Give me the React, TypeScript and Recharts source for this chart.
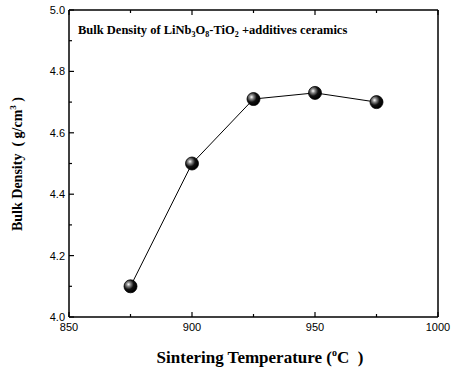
import { LineChart, Line, XAxis, YAxis } from "recharts";

const temperatures = [875, 900, 925, 950, 975];
const densities = [4.1, 4.5, 4.71, 4.73, 4.7];

const xMajorTicks = [850, 900, 950, 1000];
const xMinorTicks = [875, 925, 975];
const yMajorTicks = [4.0, 4.2, 4.4, 4.6, 4.8, 5.0];
const yMinorTicks = [4.1, 4.3, 4.5, 4.7, 4.9];

const data = temperatures.map((t, i) => ({ temp: t, density: densities[i] }));

const labelFont = "Liberation Sans, Arial, sans-serif";
const serif = "Liberation Serif, Times New Roman, serif";

function isMajor(list: number[], v: number) {
  return list.some((m) => Math.abs(m - v) < 1e-6);
}

// ticks point into the plot, labels only on bottom/left majors
function makeTick(side: "bottom" | "top" | "left" | "right") {
  return (props: any) => {
    const { x, y, payload } = props;
    const v = payload.value as number;
    const major = side === "bottom" || side === "top" ? isMajor(xMajorTicks, v) : isMajor(yMajorTicks, v);
    const len = major ? 5 : 3;
    let x2 = x;
    let y2 = y;
    if (side === "bottom") y2 = y - len;
    else if (side === "top") y2 = y + len;
    else if (side === "left") x2 = x + len;
    else x2 = x - len;
    let label = null;
    if (major && side === "bottom") {
      label = (
        <text x={x} y={y + 14} textAnchor="middle" fontSize={11} fontFamily={labelFont} fill="#000">
          {v}
        </text>
      );
    }
    if (major && side === "left") {
      label = (
        <text x={x - 4} y={y + 4} textAnchor="end" fontSize={11} fontFamily={labelFont} fill="#000">
          {v.toFixed(1)}
        </text>
      );
    }
    return (
      <g>
        <line x1={x} y1={y} x2={x2} y2={y2} stroke="#000" strokeWidth={1.2} />
        {label}
      </g>
    );
  };
}

function Sphere(props: any) {
  const { cx, cy } = props;
  if (cx == null || cy == null) return null;
  return <circle cx={cx} cy={cy} r={6.5} fill="url(#sphere)" stroke="#000" strokeWidth={0.8} />;
}

const axisLine = { stroke: "#000", strokeWidth: 1.5 };

export default function App() {
  return (
    <div style={{ position: "absolute", left: 0, top: 0, width: 451, height: 372, background: "#fff" }}>
      <LineChart width={451} height={372} data={data} margin={{ top: 9, right: 12, bottom: 0, left: 0 }}>
        <defs>
          <radialGradient id="sphere" cx="35%" cy="35%" r="65%">
            <stop offset="0%" stopColor="#ffffff" />
            <stop offset="25%" stopColor="#888888" />
            <stop offset="60%" stopColor="#111111" />
            <stop offset="100%" stopColor="#000000" />
          </radialGradient>
        </defs>
        <XAxis
          xAxisId="b"
          dataKey="temp"
          type="number"
          domain={[850, 1000]}
          ticks={[...xMajorTicks, ...xMinorTicks]}
          interval={0}
          height={55}
          tickSize={0}
          tickMargin={0}
          axisLine={axisLine}
          tick={makeTick("bottom")}
        />
        <XAxis
          xAxisId="t"
          orientation="top"
          dataKey="temp"
          type="number"
          domain={[850, 1000]}
          ticks={[...xMajorTicks, ...xMinorTicks]}
          interval={0}
          height={1}
          tickSize={0}
          tickMargin={0}
          axisLine={axisLine}
          tick={makeTick("top")}
        />
        <YAxis
          yAxisId="l"
          type="number"
          domain={[4.0, 5.0]}
          ticks={[...yMajorTicks, ...yMinorTicks]}
          interval={0}
          width={69}
          tickSize={0}
          tickMargin={0}
          axisLine={axisLine}
          tick={makeTick("left")}
        />
        <YAxis
          yAxisId="r"
          orientation="right"
          type="number"
          domain={[4.0, 5.0]}
          ticks={[...yMajorTicks, ...yMinorTicks]}
          interval={0}
          width={1}
          tickSize={0}
          tickMargin={0}
          axisLine={axisLine}
          tick={makeTick("right")}
        />
        <Line
          xAxisId="b"
          yAxisId="l"
          dataKey="density"
          stroke="#000"
          strokeWidth={1}
          dot={<Sphere />}
          isAnimationActive={false}
        />
        <text x={78} y={34} fontFamily={serif} fontWeight="bold" fontSize={12.5} fill="#000">
          Bulk Density of LiNb
          <tspan fontSize={8} dy={3}>3</tspan>
          <tspan dy={-3}>O</tspan>
          <tspan fontSize={8} dy={3}>8</tspan>
          <tspan dy={-3}>-TiO</tspan>
          <tspan fontSize={8} dy={3}>2</tspan>
          <tspan dy={-3}> +additives ceramics</tspan>
        </text>
        <text
          x={0}
          y={0}
          transform="translate(22,164) rotate(-90)"
          textAnchor="middle"
          fontFamily={serif}
          fontWeight="bold"
          fontSize={14}
          fill="#000"
        >
          Bulk Density {"\u00a0"}( g/cm
          <tspan fontSize={9} dy={-6}>3</tspan>
          <tspan dy={6}> )</tspan>
        </text>
        <text x={260} y={363} textAnchor="middle" fontFamily={serif} fontWeight="bold" fontSize={17} fill="#000">
          Sintering Temperature (
          <tspan fontSize={10} dy={-7}>o</tspan>
          <tspan dy={7}>C {"\u00a0"})</tspan>
        </text>
      </LineChart>
    </div>
  );
}
